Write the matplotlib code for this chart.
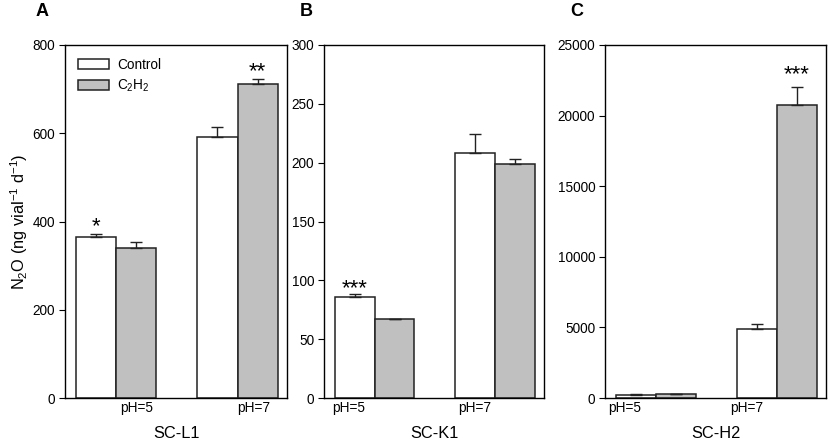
import matplotlib
matplotlib.use("Agg")
import matplotlib.pyplot as plt
import numpy as np

plt.rcParams["font.family"] = ["Liberation Sans", "DejaVu Sans"]
plt.rcParams["mathtext.fontset"] = "custom"
plt.rcParams["mathtext.rm"] = "Liberation Sans"
plt.rcParams["mathtext.it"] = "Liberation Sans"
plt.rcParams["mathtext.default"] = "regular"

groups = ["pH=5", "pH=7"]

# SC-L1
l1_control = [365, 592]
l1_control_err = [6, 23]
l1_c2h2 = [339, 711]
l1_c2h2_err = [14, 12]
l1_stars = [["*", ""], ["", "**"]]

# SC-K1
k1_control = [86, 208]
k1_control_err = [2.5, 16.5]
k1_c2h2 = [67, 199]
k1_c2h2_err = [0.3, 4.5]
k1_stars = [["***", ""], ["", ""]]

# SC-H2
h2_control = [236, 4900]
h2_control_err = [30, 350]
h2_c2h2 = [284, 20740]
h2_c2h2_err = [20, 1320]
h2_stars = [["", ""], ["", "***"]]

panels = [
    dict(letter="A", name="SC-L1", ctrl=l1_control, ctrl_err=l1_control_err,
         gas=l1_c2h2, gas_err=l1_c2h2_err, stars=l1_stars, star_off=-2,
         ylim=800, yticks=np.arange(0, 801, 200), tickpos=[1.79, 4.70],
         rect=[65, 287], letter_x=42),
    dict(letter="B", name="SC-K1", ctrl=k1_control, ctrl_err=k1_control_err,
         gas=k1_c2h2, gas_err=k1_c2h2_err, stars=k1_stars, star_off=-4,
         ylim=300, yticks=np.arange(0, 301, 50), tickpos=[0.63, 3.79],
         rect=[324, 544], letter_x=306),
    dict(letter="C", name="SC-H2", ctrl=h2_control, ctrl_err=h2_control_err,
         gas=h2_c2h2, gas_err=h2_c2h2_err, stars=h2_stars, star_off=1,
         ylim=25000, yticks=np.arange(0, 25001, 5000), tickpos=[0.48, 3.54],
         rect=[605, 826], letter_x=577),
]

W, H = 829, 445
fig = plt.figure(figsize=(W / 100, H / 100), dpi=100)

group_left = np.array([0.27, 3.29])
width = 1.0
gray = "#c0c0c0"

for i, p in enumerate(panels):
    x0, x1 = p["rect"]
    ax = fig.add_axes([x0 / W, 1 - 398 / H, (x1 - x0) / W, 353 / H])
    xc = group_left + width / 2
    xg = group_left + 1.5 * width
    zeros = [0, 0]
    ax.bar(xc, p["ctrl"], width, color="white", edgecolor="#222222",
           linewidth=1.1, label="Control", zorder=2)
    ax.bar(xg, p["gas"], width, color=gray, edgecolor="#222222",
           linewidth=1.1, label="C$_2$H$_2$", zorder=2)
    ax.errorbar(xc, p["ctrl"], yerr=[zeros, p["ctrl_err"]], fmt="none",
                ecolor="#222222", elinewidth=1, capsize=4, capthick=1, zorder=3)
    ax.errorbar(xg, p["gas"], yerr=[zeros, p["gas_err"]], fmt="none",
                ecolor="#222222", elinewidth=1, capsize=4, capthick=1, zorder=3)
    for j in range(2):
        for k, (xs, vals, errs) in enumerate([(xc, p["ctrl"], p["ctrl_err"]),
                                              (xg, p["gas"], p["gas_err"])]):
            s = p["stars"][j][k]
            if s:
                ax.annotate(s, (xs[j], vals[j] + errs[j]),
                            xytext=(0, p["star_off"]),
                            textcoords="offset points", ha="center",
                            va="bottom", fontsize=16)
    ax.set_xlim(0, 5.52)
    ax.set_ylim(0, p["ylim"])
    ax.set_yticks(p["yticks"])
    ax.set_xticks(p["tickpos"])
    ax.set_xticklabels(groups)
    ax.tick_params(axis="x", length=0, pad=2, labelsize=9.8)
    ax.tick_params(axis="y", direction="out", length=4, pad=3, labelsize=9.8)
    ax.set_xlabel(p["name"], fontsize=11.8, labelpad=8)
    for sp in ax.spines.values():
        sp.set_linewidth(1)
    fig.text(p["letter_x"] / W, 1 - 12 / H, p["letter"], fontsize=13,
             fontweight="bold", ha="center", va="center")
    if i == 0:
        ax.set_ylabel("N$_2$O (ng vial$^{-1}$ d$^{-1}$)", fontsize=11.8,
                      labelpad=2)
        ax.legend(loc="upper left", frameon=False, fontsize=9.8,
                  handlelength=2.3, handleheight=0.75, labelspacing=0.45,
                  handletextpad=0.6, borderaxespad=0.55,
                  bbox_to_anchor=(0.0, 1.0))

fig.savefig("out.png", dpi=100)
